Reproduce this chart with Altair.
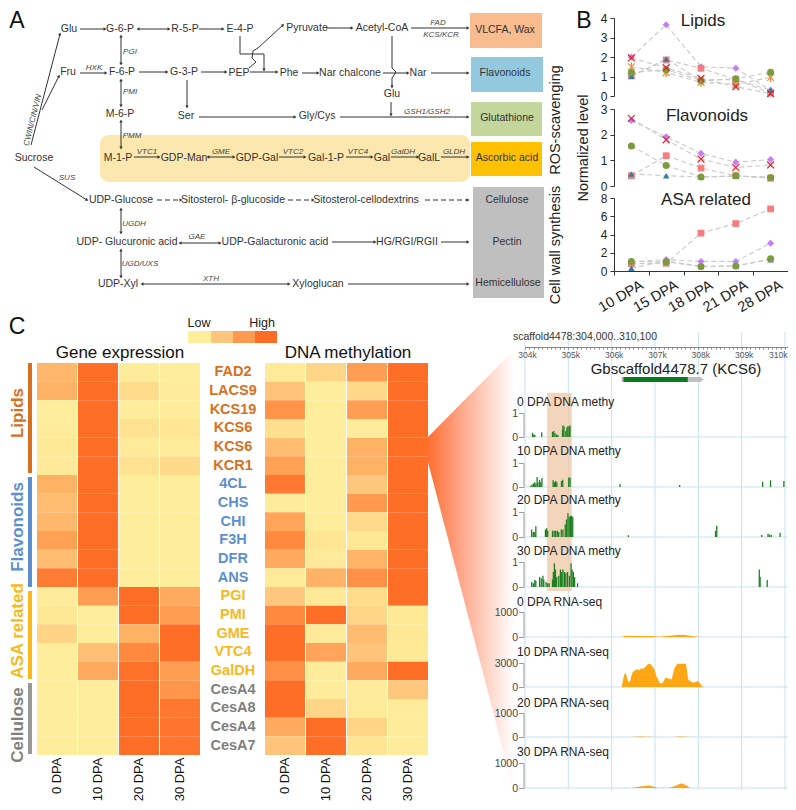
import math
import altair as alt
import pandas as pd

W, H = 780, 794
FONT = "Liberation Sans"

# ---------- data: panel B ----------
DAYS = ["10 DPA", "15 DPA", "18 DPA", "21 DPA", "28 DPA"]
LIPIDS = {
    "diamond": [2.0, 3.65, 1.5, 1.42, 0.3],
    "square": [1.05, 1.85, 1.42, 0.85, 0.15],
    "triangle": [1.0, 1.9, 0.8, 0.85, 0.3],
    "asterisk": [1.5, 1.2, 0.7, 0.6, 0.95],
    "circle": [1.2, 1.35, 0.8, 0.88, 1.22],
    "x": [1.95, 1.45, 0.9, 0.48, 0.12],
}
FLAVONOIDS = {
    "diamond": [2.55, 1.92, 1.27, 0.93, 1.03],
    "square": [0.4, 1.18, 0.7, 0.4, 0.3],
    "triangle": [0.47, 0.4, 0.35, 0.38, 0.35],
    "circle": [1.56, 0.8, 0.35, 0.4, 0.33],
    "x": [2.63, 1.8, 1.05, 0.72, 0.82],
}
ASA = {
    "diamond": [1.0, 1.25, 1.05, 1.05, 3.05],
    "square": [0.8, 0.85, 4.15, 5.2, 6.8],
    "triangle": [0.3, 1.1, 0.5, 0.55, 1.25],
    "circle": [1.05, 1.0, 0.5, 0.55, 1.35],
}

# ---------- data: panel C heatmaps ----------
GENES = ["FAD2", "LACS9", "KCS19", "KCS6", "KCS6", "KCR1", "4CL", "CHS", "CHI", "F3H", "DFR", "ANS",
         "PGI", "PMI", "GME", "VTC4", "GalDH", "CesA4", "CesA8", "CesA4", "CesA7"]
GENE_GROUP = ["Lipids"] * 6 + ["Flavonoids"] * 6 + ["ASA related"] * 5 + ["Cellulose"] * 4
STAGES = ["0 DPA", "10 DPA", "20 DPA", "30 DPA"]
EXPRESSION = {
    "0 DPA": [.45, .5, 0, .02, .04, .03, .5, .4, .45, .62, .4, .9, .02, .05, .22, 0, 0, 0, 0, 0, 0],
    "10 DPA": [1, 1, 1, 1, 1, 1, 1, 1, 1, 1, 1, 1, .65, 0, 0, .38, .55, 0, 0, 0, 0],
    "20 DPA": [.02, .15, .02, .1, .03, .1, 0, 0, 0, 0, 0, 0, 1, 1, .5, .8, .98, 1, 1, 1, 1],
    "30 DPA": [.01, .03, .02, .07, .03, .17, 0, 0, 0, 0, 0, 0, .55, .65, 1, 1, .65, .7, .93, .95, .95],
}
METHYLATION = {
    "0 DPA": [.03, .35, .72, .12, .4, .62, .92, .02, .6, .8, .55, .03, .32, .8, 1, 1, .75, 1, 1, .55, .35],
    "10 DPA": [.2, 0, .01, .01, .01, .01, .01, .01, .01, .07, .03, .48, .04, 1, .03, .6, .02, .02, .2, 1, 1],
    "20 DPA": [.65, .18, .65, .02, .5, .5, .32, .68, .18, .05, .47, .75, .15, .2, .42, .35, .55, .02, .03, .22, .08],
    "30 DPA": [1, 1, 1, 1, 1, 1, 1, 1, 1, 1, 1, 1, 1, .04, .06, .04, 1, .32, .02, .02, .02],
}
LEGEND_VALUES = [0, .33, .67, 1]

# ---------- data: genome tracks (kb after 304,000; level) ----------
DNA_TRACKS = {
    "0 DPA DNA methy": [(.06, .17), (.09, .1), (.115, .08), (.28, .2), (.54, .22), (.57, .25), (.6, .17), (.64, .1),
                        (.67, .08), (.78, .3), (.79, .48), (.815, .45), (.86, .25), (.885, .4), (.91, .45), (.94, .45), (.96, .48)],
    "10 DPA DNA methy": [(.02, .05), (.05, .1), (.085, .15), (.115, .2), (.14, .12), (.17, .42), (.19, .2), (.23, .3),
                         (.26, .2), (.285, .38), (.555, .28), (.585, .2), (.615, .25), (.645, .2), (.755, .25), (.785, .3),
                         (.93, .4), (.96, .4), (2.16, .12), (3.59, .08), (5.58, .22), (5.77, .28), (6.09, .25)],
    "20 DPA DNA methy": [(.04, .3), (.08, .2), (.115, .2), (.14, .43), (.37, .3), (.4, .35), (.425, .25), (.54, .25),
                         (.58, .25), (.615, .25), (.655, .25), (.69, .2), (.75, .3), (.79, .3), (.845, .5), (.875, .7),
                         (.91, .95), (.94, .8), (.97, .85), (1.0, .85), (1.025, .8), (2.36, .07), (4.45, .25), (4.48, .45),
                         (5.56, .08), (5.71, .13), (5.75, .1), (5.79, .08), (6.0, .17)],
    "30 DPA DNA methy": [(.04, .2), (.08, .15), (.115, .28), (.14, .25), (.23, .4), (.27, .35), (.31, .45), (.33, .3),
                         (.385, .2), (.425, .15), (.46, .15), (.54, .3), (.56, .6), (.585, .95), (.61, .7), (.64, .4),
                         (.69, .45), (.73, .7), (.76, .6), (.79, .7), (.83, .6), (.86, .55), (.9, .6), (.945, .45),
                         (.985, .95), (1.01, .7), (1.04, .6), (1.07, .4), (1.14, .15), (5.5, .7), (5.52, .4), (5.69, .28)],
}
RNA_TRACKS = {
    "0 DPA RNA-seq": [(2.23, 0), (2.31, 50), (2.58, 40), (2.96, 40), (3.08, 15), (3.27, 40), (3.5, 80), (3.65, 90), (3.81, 50), (4.04, 0)],
    "10 DPA RNA-seq": [(2.23, 0), (2.285, 1480), (2.32, 1810), (2.385, 660), (2.42, 660), (2.485, 1890), (2.58, 2220),
                       (2.655, 2100), (2.67, 2300), (2.745, 2300), (2.845, 2920), (2.9, 2840), (2.98, 2300), (3.04, 1270),
                       (3.115, 450), (3.18, 530), (3.245, 1190), (3.31, 1070), (3.385, 950), (3.445, 2300), (3.515, 2920),
                       (3.715, 2920), (3.77, 860), (3.885, 530), (4.0, 740), (4.08, 120), (4.13, 0)],
    "20 DPA RNA-seq": [(2.42, 0), (2.65, 25), (3.04, 0), (3.42, 0), (3.58, 25), (3.85, 0)],
    "30 DPA RNA-seq": [(2.23, 0), (2.31, 15), (2.37, 0), (2.46, 0), (2.65, 60), (2.88, 100), (3.08, 0), (3.15, 10), (3.31, 0),
                       (3.46, 80), (3.615, 190), (3.73, 100), (3.81, 0), (3.95, 0)],
}
RNA_MAX = {"0 DPA RNA-seq": 1000, "10 DPA RNA-seq": 3000, "20 DPA RNA-seq": 1000, "30 DPA RNA-seq": 1000}

# ---------- schematic of panel A ----------
NODES = [("Glu", 69, 29), ("G-6-P", 120, 29), ("R-5-P", 185, 29), ("E-4-P", 240, 29), ("Pyruvate", 307, 28), ("Acetyl-CoA", 382, 28),
         ("Fru", 68, 72), ("F-6-P", 122, 72), ("G-3-P", 184, 72), ("PEP", 239, 73), ("Phe", 289, 73), ("Nar chalcone", 350, 73), ("Nar", 418, 73),
         ("M-6-P", 120, 114), ("Ser", 186, 116), ("Gly/Cys", 317, 116), ("Glu", 392, 94), ("Sucrose", 34, 158),
         ("M-1-P", 118, 158), ("GDP-Man", 184, 158), ("GDP-Gal", 257, 158), ("Gal-1-P", 326, 158), ("Gal", 382, 158), ("GalL", 429, 158),
         ("UDP-Glucose", 121, 200), ("Sitosterol- β-glucoside", 233, 200), ("Sitosterol-cellodextrins", 366, 200),
         ("UDP- Glucuronic acid", 127, 242), ("UDP-Galacturonic acid", 275, 242), ("HG/RGI/RGII", 407, 242),
         ("UDP-Xyl", 118, 284), ("Xyloglucan", 318, 284),
         ("VLCFA, Wax", 505, 30), ("Flavonoids", 505, 73), ("Glutathione", 507, 118), ("Ascorbic acid", 507, 158),
         ("Cellulose", 507, 200), ("Pectin", 507, 242), ("Hemicellulose", 508, 283)]
ENZYMES = [("PGI", 130, 52), ("HXK", 94, 68), ("PMI", 130, 92), ("PMM", 132, 136), ("SUS", 67, 178), ("VTC1", 147, 152), ("GME", 221, 152),
           ("VTC2", 293, 152), ("VTC4", 358, 152), ("GalDH", 403, 152), ("GLDH", 454, 152), ("UGDH", 134, 224), ("UGD/UXS", 140, 264),
           ("GAE", 197, 237), ("XTH", 211, 279), ("FAD", 438, 23), ("KCS/KCR", 441, 35), ("GSH1/GSH2", 427, 112)]
ARROWS = [(80, 29, 105, 29, 1), (138, 29, 169, 29, 2), (199, 29, 223, 29, 1), (121, 36, 121, 64, 2), (80, 73, 106, 73, 1),
          (139, 72, 167, 72, 1), (201, 72, 226, 72, 1), (250, 72, 277, 72, 1), (121, 80, 121, 106, 2), (187, 80, 187, 107, 1),
          (199, 117, 295, 117, 1), (340, 117, 468, 117, 1), (121, 121, 121, 148, 2), (134, 157, 159, 157, 1), (208, 157, 234, 157, 2),
          (279, 157, 305, 157, 1), (346, 157, 372, 157, 1), (391, 157, 418, 157, 1), (441, 157, 468, 157, 1), (31, 145, 60, 34, 1),
          (42, 110, 59, 76, 1), (34, 167, 87, 200, 1), (121, 209, 121, 233, 2), (180, 243, 220, 243, 2), (332, 242, 375, 242, 1),
          (441, 242, 468, 242, 1), (121, 250, 121, 277, 2), (142, 284, 289, 284, 2), (348, 284, 468, 284, 1), (326, 28, 352, 28, 1),
          (411, 28, 468, 28, 1), (302, 73, 318, 73, 1), (383, 73, 408, 73, 1), (431, 73, 468, 73, 1), (391, 102, 391, 115, 1),
          (264, 54, 264, 70, 1), (392, 78, 392, 87, 1), (258, 48, 283, 25, 1)]
PLAIN = [(240, 36, 240, 54, 0), (240, 54, 264, 54, 0), (392, 36, 392, 68, 0), (392, 68, 396, 72, 0), (396, 72, 392, 78, 0),
         (249, 68, 256, 62, 0), (256, 62, 252, 58, 0), (252, 58, 253, 51, 0), (253, 51, 258, 48, 0)]
DASHED = [(157, 200, 181, 200, 1), (288, 200, 313, 200, 1), (425, 200, 468, 200, 1)]
BOXES = [(470, 542, 13, 48, "#F8BC8E"), (471, 543, 57, 92, "#92C9DE"), (471, 542, 102, 136, "#C3D69B"),
         (471, 542, 142, 176, "#FFC000"), (473, 544, 187, 298, "#BFBFBF")]


def sx():
    return alt.Scale(domain=[8, 8 + W], range=[0, W], nice=False, zero=False)


def sy():
    return alt.Scale(domain=[8, 8 + H], range=[0, H], nice=False, zero=False)


def cx(f):
    return alt.X(f, type="quantitative", scale=sx(), axis=None)


def cy(f):
    return alt.Y(f, type="quantitative", scale=sy(), axis=None)


def text_layer(rows, size, color="#333333", angle=None, **kw):
    df = pd.DataFrame(rows, columns=["t", "x", "y"])
    opts = dict(font=FONT, fontSize=size, color=color, align=kw.pop("align", "center"), baseline="middle", **kw)
    if angle is not None:
        opts["angle"] = angle
    return alt.Chart(df).mark_text(**opts).encode(x=cx("x"), y=cy("y"), text="t:N")


def seg_layer(rows, color="#333333", width=1.0, dash=None):
    df = pd.DataFrame(rows, columns=["x", "y", "x2", "y2", "k"])
    opts = dict(color=color, strokeWidth=width)
    if dash:
        opts["strokeDash"] = dash
    return alt.Chart(df).mark_rule(**opts).encode(
        x=cx("x"), y=cy("y"), x2=alt.X2("x2"), y2=alt.Y2("y2"))


def head_layer(rows):
    out = []
    for x1, y1, x2, y2, k in rows:
        a = math.degrees(math.atan2(x2 - x1, -(y2 - y1))) % 360
        if k >= 1:
            out.append((x2, y2, a))
        if k == 2:
            out.append((x1, y1, (a + 180) % 360))
    df = pd.DataFrame(out, columns=["x", "y", "a"])
    return alt.Chart(df).mark_point(shape="triangle-up", filled=True, size=11, color="#333333", opacity=1).encode(
        x=cx("x"), y=cy("y"), angle=alt.Angle("a:Q", scale=None))


def rect_layer(rows, **kw):
    df = pd.DataFrame(rows, columns=["x", "x2", "y", "y2", "c"])
    return alt.Chart(df).mark_rect(**kw).encode(
        x=cx("x"), x2=alt.X2("x2"), y=cy("y"), y2=alt.Y2("y2"),
        color=alt.Color("c:N", scale=None))


layers = []

# --- wedge (behind everything on the right)
wedge = pd.DataFrame({"x": [428, 514], "top": [437, 350], "bot": [462, 792]})
layers.append(alt.Chart(wedge).mark_area(
    color=alt.Gradient(gradient="linear", x1=0, x2=1, y1=0, y2=0,
                       stops=[alt.GradientStop(color="#FF6E30", offset=0),
                              alt.GradientStop(color="#FF9A78", offset=0.3),
                              alt.GradientStop(color="#FFD5C8", offset=0.7),
                              alt.GradientStop(color="#FFFFFF", offset=1)])
).encode(x=cx("x"), y=cy("top"), y2=alt.Y2("bot")))

# --- panel A
layers.append(rect_layer([(100, 470, 135, 182, "#FCE7AE")], cornerRadius=9))
layers.append(rect_layer(BOXES))
layers.append(seg_layer(ARROWS))
layers.append(seg_layer(PLAIN))
layers.append(seg_layer(DASHED, dash=[5, 3]))
layers.append(head_layer(ARROWS + DASHED))
layers.append(text_layer(NODES, 10.5))
layers.append(text_layer(ENZYMES, 8, color="#444444", fontStyle="italic"))
layers.append(text_layer([("CWIN/CIN/VIN", 33, 120)], 8, color="#444444", angle=284, fontStyle="italic"))
layers.append(text_layer([("ROS-scavenging", 556, 120), ("Cell wall synthesis", 556, 245)], 14.5, color="#222222", angle=270))
layers.append(text_layer([("A", 17, 21), ("B", 584, 21), ("C", 17, 327)], 23, color="#111111"))

# --- panel B
SHAPE_STYLE = {
    "diamond": ("diamond", "#C77DF5", True, 50),
    "square": ("square", "#F47F7F", True, 46),
    "triangle": ("triangle-up", "#2F7F9F", True, 42),
    "circle": ("circle", "#7C9A3E", True, 50),
    "asterisk": ("M-1,-1L1,1M-1,1L1,-1M0,-1.3L0,1.3", "#E8923C", False, 46),
    "x": ("M-1,-1L1,1M-1,1L1,-1", "#E8232A", False, 46),
}


def panel_b(series, dmax, ticks, bottom, top, show_x):
    rows = [(d, s, v) for s, vals in series.items() for d, v in zip(DAYS, vals)]
    df = pd.DataFrame(rows, columns=["day", "s", "v"])
    xs = alt.Scale(type="band", domain=DAYS, range=[614 - 8, 788 - 8], paddingInner=0, paddingOuter=0)
    ys = alt.Scale(domain=[0, dmax], range=[bottom - 8, top - 8], nice=False, zero=False)
    yaxis = alt.Axis(orient="left", offset=-(614 - 8), values=ticks, title=None, grid=False, labelFontSize=12,
                     labelFont=FONT, labelColor="#222222", tickColor="#333333", domainColor="#333333",
                     tickSize=4, labelPadding=3, format="d")
    if show_x:
        xaxis = alt.Axis(orient="bottom", offset=-(H - (bottom - 8)), title=None, grid=False, tickBand="extent",
                         labelAngle=-30, labelAlign="right", labelBaseline="top", labelFontSize=14.5, labelFont=FONT,
                         labelColor="#222222", tickColor="#333333", domainColor="#333333", tickSize=4,
                         labelOffset=7, labelPadding=3)
    else:
        xaxis = None
    out = [alt.Chart(df).mark_line(color="#C9C9C9", strokeWidth=1.1, strokeDash=[5, 3]).encode(
        x=alt.X("day:N", scale=xs, axis=xaxis),
        y=alt.Y("v:Q", scale=ys, axis=yaxis),
        detail="s:N")]
    for name in series:
        shape, col, filled, size = SHAPE_STYLE[name]
        sub = df[df.s == name]
        out.append(alt.Chart(sub).mark_point(shape=shape, filled=filled, color=col, size=size, opacity=1,
                                             strokeWidth=1.3).encode(
            x=alt.X("day:N", scale=xs, axis=None), y=alt.Y("v:Q", scale=ys, axis=None)))
    return out


layers += panel_b(LIPIDS, 4, [0, 1, 2, 3, 4], 96, 18, False)
layers += panel_b(FLAVONOIDS, 3, [0, 1, 2, 3], 186, 109, False)
layers += panel_b(ASA, 8, [0, 2, 4, 6, 8], 271, 198, True)
layers.append(text_layer([("Lipids", 703, 21), ("Flavonoids", 707, 116), ("ASA related", 706, 200)], 17, color="#222222"))
layers.append(text_layer([("Normalized level", 584, 148)], 14.5, color="#222222", angle=270))

# --- panel C heatmaps
HEAT_TOP, HEAT_BOTTOM = 363, 755
HEAT = alt.Scale(domain=LEGEND_VALUES, range=["#FEEE9C", "#FFC67C", "#FF9A50", "#FF6E27"])


def rows_scale():
    return alt.Scale(type="band", domain=list(range(21)), range=[HEAT_TOP - 8, HEAT_BOTTOM - 8],
                     paddingInner=0, paddingOuter=0)


def heat(values, left, right):
    rows = [(st, i, v) for st in STAGES for i, v in enumerate(values[st])]
    df = pd.DataFrame(rows, columns=["st", "row", "v"])
    return alt.Chart(df).mark_rect().encode(
        x=alt.X("st:N", sort=STAGES,
                scale=alt.Scale(type="band", domain=STAGES, range=[left - 8, right - 8], paddingInner=0.025, paddingOuter=0),
                axis=alt.Axis(orient="bottom", offset=-(H - (HEAT_BOTTOM - 8)), title=None, domain=False, ticks=False, grid=False,
                              labelAngle=-90, labelAlign="right", labelBaseline="middle", labelFontSize=13,
                              labelFont=FONT, labelColor="#111111", labelPadding=2)),
        y=alt.Y("row:O", scale=rows_scale(), axis=None),
        color=alt.Color("v:Q", scale=HEAT, legend=None))


layers.append(heat(EXPRESSION, 37, 200))
layers.append(heat(METHYLATION, 265, 428))

legend_df = pd.DataFrame({"v": LEGEND_VALUES, "x": [188, 211, 233, 255], "x2": [211, 233, 255, 277],
                          "y": [331] * 4, "y2": [343] * 4})
layers.append(alt.Chart(legend_df).mark_rect().encode(
    x=cx("x"), x2=alt.X2("x2"), y=cy("y"), y2=alt.Y2("y2"),
    color=alt.Color("v:Q", scale=HEAT, legend=None)))
layers.append(text_layer([("Low", 199, 323), ("High", 262, 323)], 12.5, color="#222222"))
layers.append(text_layer([("Gene expression", 120, 353), ("DNA methylation", 348, 353)], 17, color="#111111"))

GROUP_COLORS = {"Lipids": "#D9701E", "Flavonoids": "#5B8FD0", "ASA related": "#F9B81C", "Cellulose": "#7F7F7F"}
gene_df = pd.DataFrame({"g": GENES, "group": GENE_GROUP, "row": list(range(21))})
layers.append(alt.Chart(gene_df).mark_text(font=FONT, fontSize=14.5, fontWeight="bold").encode(
    x=alt.value(233 - 8),
    y=alt.Y("row:O", scale=rows_scale(), axis=None),
    text="g:N",
    color=alt.Color("group:N", scale=alt.Scale(domain=list(GROUP_COLORS), range=list(GROUP_COLORS.values())), legend=None)))

layers.append(rect_layer([(28, 32, 363, 473, GROUP_COLORS["Lipids"]), (28, 32, 477, 587, GROUP_COLORS["Flavonoids"]),
                          (28, 32, 591, 679, GROUP_COLORS["ASA related"]), (28, 32, 683, 754, "#999999")]))
for label, yc in [("Lipids", 413), ("Flavonoids", 527), ("ASA related", 631), ("Cellulose", 725)]:
    layers.append(text_layer([(label, 18, yc)], 17, color=GROUP_COLORS[label], angle=270, fontWeight="bold"))

# --- genome browser
GEN = alt.Scale(domain=[304000, 310100], range=[525 - 8, 789.3 - 8], nice=False, zero=False)
GRID = "#C6E3EE"
TICKS = [304000, 305000, 306000, 307000, 308000, 309000, 310000]
grid_df = pd.DataFrame({"p": TICKS, "y": [332] * 7, "y2": [790] * 7})
layers.append(alt.Chart(grid_df).mark_rule(color=GRID, strokeWidth=1).encode(
    x=alt.X("p:Q", scale=GEN, axis=alt.Axis(
        orient="bottom", offset=-(H - (347 - 8)), values=list(range(304000, 310101, 100)), title=None, grid=False,
        labelExpr="datum.value % 1000 === 0 ? (datum.value / 1000) + 'k' : ''", labelOverlap=False, labelFontSize=8.5,
        labelFont=FONT, labelColor="#555555", tickColor="#888888", domainColor="#888888", tickSize=2, labelPadding=1,
        labelAlign=alt.expr("datum.value === 310000 ? 'right' : 'center'"), labelOffset=2, zindex=1)),
    y=cy("y"), y2=alt.Y2("y2")))

TRACK_BASE = [437, 487, 537, 587, 637, 687, 737, 788]
TRACK_TOP = [413, 463, 512, 562, 612, 663, 713, 763]
TRACK_TITLE_Y = [402, 451, 500, 551, 602, 652, 703, 752]
base_df = pd.DataFrame({"y": TRACK_BASE, "x": [525] * 8, "x2": [788] * 8})
layers.append(alt.Chart(base_df).mark_rule(color=GRID, strokeWidth=1).encode(x=cx("x"), x2=alt.X2("x2"), y=cy("y")))

hl = pd.DataFrame({"a": [304510], "b": [305080], "y": [393], "y2": [591]})
layers.append(alt.Chart(hl).mark_rect(color="#EFC7A6", opacity=0.75).encode(
    x=alt.X("a:Q", scale=GEN, axis=None), x2=alt.X2("b"), y=cy("y"), y2=alt.Y2("y2")))


def track_axis(maxv):
    return alt.Axis(orient="left", offset=-(523.5 - 8), values=[0, maxv], title=None, grid=False, labelFontSize=10.5,
                    labelFont=FONT, labelColor="#444444", tickColor="#999999", domainColor="#AAAAAA", tickSize=5,
                    labelPadding=1, domainWidth=1.2, zindex=1, format="d")


track_titles = []
for i, (name, pts) in enumerate(DNA_TRACKS.items()):
    df = pd.DataFrame([(304000 + k * 1000, v) for k, v in pts], columns=["p", "v"])
    ys = alt.Scale(domain=[0, 1], range=[TRACK_BASE[i] - 8, TRACK_TOP[i] - 8], nice=False, zero=False)
    layers.append(alt.Chart(df).mark_bar(color="#1E8022", size=1.3).encode(
        x=alt.X("p:Q", scale=GEN, axis=None), y=alt.Y("v:Q", scale=ys, axis=track_axis(1))))
    track_titles.append((name, 517, TRACK_TITLE_Y[i]))
for j, (name, pts) in enumerate(RNA_TRACKS.items()):
    i = j + 4
    df = pd.DataFrame([(304000 + k * 1000, v) for k, v in pts], columns=["p", "v"])
    ys = alt.Scale(domain=[0, RNA_MAX[name]], range=[TRACK_BASE[i] - 8, TRACK_TOP[i] - 8], nice=False, zero=False)
    layers.append(alt.Chart(df).mark_area(color="#FFA615", opacity=1).encode(
        x=alt.X("p:Q", scale=GEN, axis=None), y=alt.Y("v:Q", scale=ys, axis=track_axis(RNA_MAX[name]))))
    track_titles.append((name, 517, TRACK_TITLE_Y[i]))
layers.append(text_layer(track_titles, 12, color="#222222", align="left"))

layers.append(text_layer([("scaffold4478:304,000..310,100", 513, 337)], 10.5, color="#333333", align="left"))
layers.append(text_layer([("Gbscaffold4478.7 (KCS6)", 676, 369)], 15, color="#222222"))
gene_parts = pd.DataFrame({"a": [306230, 306270, 307760], "b": [306270, 307760, 308060], "c": ["#BBBBBB", "#0A7A1E", "#BFBFBF"],
                           "y": [377, 377, 377], "y2": [382, 382, 382]})
layers.append(alt.Chart(gene_parts).mark_rect().encode(
    x=alt.X("a:Q", scale=GEN, axis=None), x2=alt.X2("b"), y=cy("y"), y2=alt.Y2("y2"),
    color=alt.Color("c:N", scale=None)))
tip = pd.DataFrame({"p": [308090], "y": [379.5]})
layers.append(alt.Chart(tip).mark_point(shape="triangle-right", filled=True, size=22, color="#BFBFBF", opacity=1).encode(
    x=alt.X("p:Q", scale=GEN, axis=None), y=cy("y")))

chart = alt.layer(*layers).resolve_scale(
    x="independent", y="independent", color="independent"
).resolve_axis(x="independent", y="independent").properties(
    width=W, height=H, padding=0, autosize=alt.AutoSizeParams(type="none"), background="white"
).configure_view(stroke=None)

chart.save("out.html", embed_options={"renderer": "svg", "actions": False})
